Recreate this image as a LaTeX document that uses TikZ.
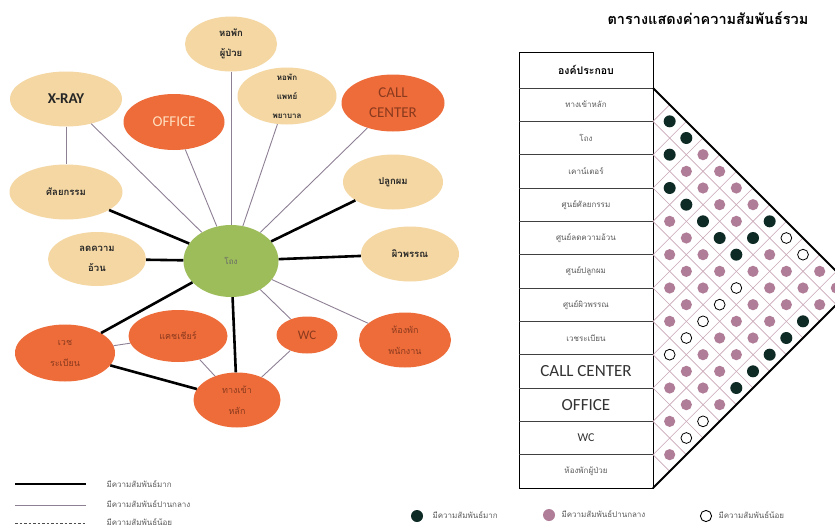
\documentclass[tikz,border=0pt]{standalone}
\usepackage{fontspec}
\setmainfont{Carlito}
\newfontfamily\thai[Script=Thai]{Loma}
\usetikzlibrary{shapes.geometric}
\definecolor{tanc}{HTML}{F4D7A3}
\definecolor{orgc}{HTML}{EE6C3A}
\definecolor{grnc}{HTML}{9DBD5B}
\definecolor{medc}{HTML}{8E8094}
\definecolor{mauvec}{HTML}{B07D98}
\definecolor{dkc}{HTML}{0E2A25}
\definecolor{gridc}{HTML}{C9A6B6}
\definecolor{otxt}{HTML}{8A3A1E}
\definecolor{gtxt}{HTML}{5A5A5A}
\newcommand\mxB[2]{\fill[dkc] (#1,#2) circle[radius=6pt];}
\newcommand\mxM[2]{\fill[mauvec] (#1,#2) circle[radius=5.6pt];}
\newcommand\mxO[2]{\draw[black, line width=0.8pt] (#1,#2) circle[radius=5.4pt];}
\begin{document}
\begin{tikzpicture}[x=1pt, y=-1pt,
  bub/.style={ellipse, inner sep=0pt},
  tanb/.style={bub, fill=tanc},
  orgb/.style={bub, fill=orgc},
  grnb/.style={bub, fill=grnc},
  thk/.style={line width=2.6pt, black},
  med/.style={line width=0.9pt, medc},
  tl/.style={font=\thai\bfseries\fontsize{9.5}{20}\selectfont, align=center, text=black!85},
  tls/.style={font=\thai\bfseries\fontsize{8}{19}\selectfont, align=center, text=black!85},
  ol/.style={font=\thai\fontsize{9}{21}\selectfont, align=center, text=otxt},
  rowt/.style={font=\thai\fontsize{8}{10}\selectfont, text=gtxt},
  rowl/.style={font=\fontsize{17}{19}\selectfont, text=black!80},
  legt/.style={font=\thai\fontsize{8}{10}\selectfont, text=gtxt, anchor=west},
]
\useasboundingbox (0,0) rectangle (835,530);
\fill[white] (0,0) rectangle (835,530);

% ---------- bubble diagram ----------
\node[tanb, minimum width=92, minimum height=55, label={[tl]center:หอพัก\\ผู้ป่วย}] (hp) at (231,44) {};
\node[tanb, minimum width=112, minimum height=55, label={[font=\bfseries\fontsize{15}{17}\selectfont, text=black!85]center:X-RAY}] (xray) at (66,99) {};
\node[orgb, minimum width=101, minimum height=56, label={[font=\fontsize{15}{17}\selectfont, text=orange!25!white]center:OFFICE}] (office) at (174,122) {};
\node[tanb, minimum width=99, minimum height=57, label={[tls]center:หอพัก\\แพทย์\\พยาบาล}] (hd) at (287,96) {};
\node[orgb, minimum width=103, minimum height=57, label={[font=\fontsize{15}{20}\selectfont, align=center, text=otxt]center:CALL\\CENTER}] (call) at (393,103) {};
\node[tanb, minimum width=113, minimum height=55, label={[tl]center:ศัลยกรรม}] (surg) at (66,192) {};
\node[tanb, minimum width=100, minimum height=55, label={[tl]center:ปลูกผม}] (hair) at (393,182) {};
\node[grnb, minimum width=95, minimum height=72, label={[font=\thai\fontsize{8}{10}\selectfont, text=black!60]center:โถง}] (hall) at (231,261) {};
\node[tanb, minimum width=98, minimum height=54, label={[tl]center:ลดความ\\อ้วน}] (diet) at (97,259) {};
\node[tanb, minimum width=98, minimum height=55, label={[tl]center:ผิวพรรณ}] (skin) at (410,254) {};
\node[orgb, minimum width=100, minimum height=57, label={[ol]center:เวช\\ระเบียน}] (med) at (65,353) {};
\node[orgb, minimum width=99, minimum height=52, label={[ol]center:แคชเชียร์}] (cash) at (178,336) {};
\node[orgb, minimum width=61, minimum height=37, label={[font=\fontsize{13}{15}\selectfont, text=otxt]center:WC}] (wc) at (307,335) {};
\node[orgb, minimum width=92, minimum height=55, label={[ol]center:ห้องพัก\\พนักงาน}] (staff) at (405,340) {};
\node[orgb, minimum width=87, minimum height=55, label={[ol]center:ทางเข้า\\หลัก}] (ent) at (237,400) {};

\draw[med] (xray) -- (surg);
\draw[med] (xray) -- (hall);
\draw[med] (office) -- (hall);
\draw[med] (hp) -- (hall);
\draw[med] (hd) -- (hall);
\draw[med] (call) -- (hall);
\draw[thk] (surg) -- (hall);
\draw[thk] (hair) -- (hall);
\draw[thk] (diet) -- (hall);
\draw[thk] (skin) -- (hall);
\draw[thk] (med) -- (hall);
\draw[thk] (ent) -- (hall);
\draw[med] (wc) -- (hall);
\draw[med] (staff) -- (hall);
\draw[med] (med) -- (cash);
\draw[med] (cash) -- (ent);
\draw[thk] (med) -- (ent);
\draw[med] (wc) -- (ent);

% legend left
\coordinate (la1) at (15,484); \coordinate (lb1) at (86,484);
\coordinate (la2) at (15,505); \coordinate (lb2) at (86,505);
\coordinate (la3) at (15,523); \coordinate (lb3) at (86,523);
\draw[thk] (la1) -- (lb1);
\draw[med] (la2) -- (lb2);
\draw[line width=0.7pt, black!70, dash pattern=on 2.5pt off 2pt] (la3) -- (lb3);
\node[legt] (lt1) at (103,484) {มีความสัมพันธ์มาก};
\node[legt] (lt2) at (103,504) {มีความสัมพันธ์ปานกลาง};
\node[legt] (lt3) at (103,522) {มีความสัมพันธ์น้อย};

% ---------- table ----------
\node[font=\thai\bfseries\fontsize{14.5}{16}\selectfont] (ttl) at (708,18) {ตารางแสดงค่าความสัมพันธ์รวม};
\draw[line width=0.9pt] (519,52) rectangle (653,488);
\foreach \k in {0,...,11} {\draw[line width=0.7pt, black!75] (519,{88+33.333*\k}) -- (653,{88+33.333*\k});}
\node[font=\thai\bfseries\fontsize{10.5}{12}\selectfont] (hdr) at (586,70) {องค์ประกอบ};
\node[rowt] (r1) at (586,104.67) {ทางเข้าหลัก};
\node[rowt] (r2) at (586,138) {โถง};
\node[rowt] (r3) at (586,171.33) {เคาน์เตอร์};
\node[rowt] (r4) at (586,204.67) {ศูนย์ศัลยกรรม};
\node[rowt] (r5) at (586,238) {ศูนย์ลดความอ้วน};
\node[rowt] (r6) at (586,271.33) {ศูนย์ปลูกผม};
\node[rowt] (r7) at (586,304.67) {ศูนย์ผิวพรรณ};
\node[rowt] (r8) at (586,338) {เวชระเบียน};
\node[rowl] (r9) at (586,371.33) {CALL CENTER};
\node[rowl] (r10) at (586,404.67) {OFFICE};
\node[font=\fontsize{12}{14}\selectfont, text=black!80] (r11) at (586,438) {WC};
\node[rowt] (r12) at (586,471.33) {ห้องพักผู้ป่วย};

\begin{scope}[shift={(653pt,-71.333pt)}, x=16.667pt, y=-16.667pt]
  \foreach \k in {1,...,11} {
    \draw[gridc, line width=0.6pt] (0,{2*\k+1}) -- ({12-\k},{\k+13});
    \draw[gridc, line width=0.6pt] (0,{2*\k+1}) -- (\k,{\k+1});
  }
  \foreach \d/\lst in {1/{B,B,B,M,M,M,M,O,M,M,M},2/{B,M,B,M,M,M,O,M,M,O},3/{M,M,B,M,M,O,M,M,O},4/{M,M,B,M,O,M,M,M},5/{M,M,B,O,M,M,B},6/{M,B,M,M,M,B},7/{B,M,M,M,B},8/{O,M,M,B},9/{O,M,B},10/{M,M},11/{M}} {
    \foreach \t [count=\i] in \lst {
      \pgfmathtruncatemacro\s{2*\i+\d}
      \csname mx\t\endcsname{\d}{\s}
    }
  }
  \draw[line width=2pt, black] (0,1) -- (12,13) -- (0,25);
\end{scope}

% legend right
\fill[dkc] (417,516) circle[radius=6pt];
\node[legt] (rt1) at (429,515) {มีความสัมพันธ์มาก};
\fill[mauvec] (549,515) circle[radius=6pt];
\node[legt] (rt2) at (558,514) {มีความสัมพันธ์ปานกลาง};
\draw[black, line width=0.9pt] (706,516) circle[radius=5.6pt];
\node[legt] (rt3) at (715,515) {มีความสัมพันธ์น้อย};
\end{tikzpicture}
\end{document}
